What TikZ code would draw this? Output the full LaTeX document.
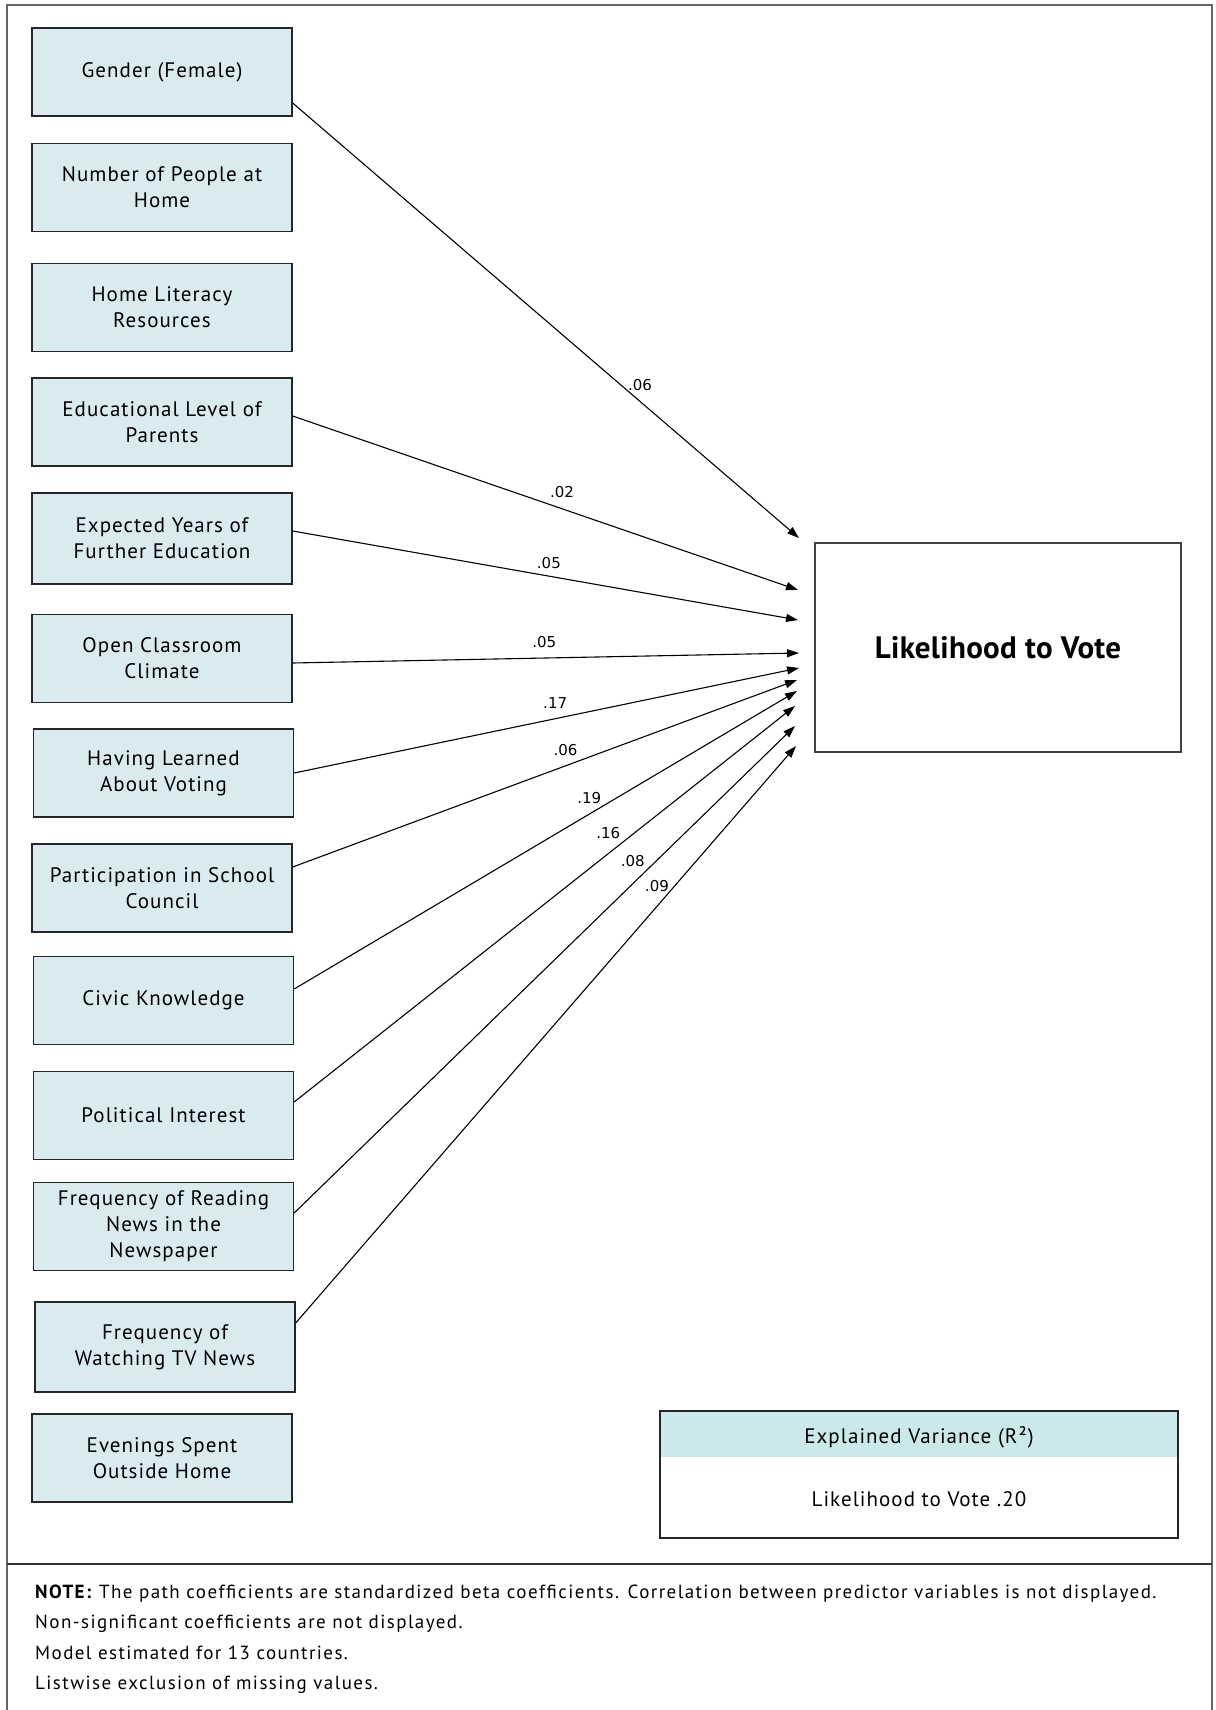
\documentclass[tikz,border=0pt]{standalone}
\usepackage{fontspec}
\setmainfont{PT Sans}[LetterSpace=5]
\newfontfamily\notefont{PT Sans}[LetterSpace=7.5]
\newfontfamily\bigfont{PT Sans}[LetterSpace=1]
\newfontfamily\labelfont{DejaVu Sans}
\usetikzlibrary{arrows.meta}
\definecolor{boxfill}{HTML}{DAEBF0}
\definecolor{headfill}{HTML}{CBE9EA}
\begin{document}
\begin{tikzpicture}[x=1pt,y=-1pt,
  pbox/.style={draw=black!85, line width=1.3pt, fill=boxfill, minimum width=260pt,
    minimum height=88pt, align=center, inner sep=0pt, font=\fontsize{21}{26}\selectfont},
  conn/.style={-{Triangle[length=12pt,width=8pt]}, line width=1.1pt},
  coef/.style={font=\labelfont\fontsize{15}{18}\selectfont, above=8pt, inner sep=2pt},
  notetext/.style={anchor=base west, inner sep=0pt, font=\notefont\fontsize{19}{22}\selectfont}
]
\useasboundingbox (0,0) rectangle (1215,1710);
\fill[white] (0,0) rectangle (1215,1710);
\draw[black!60, line width=1.2pt] (7,1710) -- (7,5) -- (1212,5) -- (1212,1710);
\draw[black!80, line width=1.2pt] (7,1564) -- (1212,1564);

% predictor boxes
\node[pbox] (b1) at (162,72) {Gender (Female)};
\node[pbox] (b2) at (162,187.5) {Number of People at\\Home};
\node[pbox] (b3) at (162,307.5) {Home Literacy\\Resources};
\node[pbox] (b4) at (162,422) {Educational Level of\\Parents};
\node[pbox, minimum height=91pt] (b5) at (162,538.5) {Expected Years of\\Further Education};
\node[pbox] (b6) at (162,658.5) {Open Classroom\\Climate};
\node[pbox] (b7) at (163.5,773) {Having Learned\\About Voting};
\node[pbox] (b8) at (162,888) {Participation in School\\Council};
\node[pbox] (b9) at (163.5,1000.5) {Civic Knowledge};
\node[pbox] (b10) at (163.5,1115.5) {Political Interest};
\node[pbox] (b11) at (163.5,1226.5) {Frequency of Reading\\News in the\\Newspaper};
\node[pbox, minimum height=90pt] (b12) at (165,1347) {Frequency of\\Watching TV News};
\node[pbox] (b13) at (162,1458) {Evenings Spent\\Outside Home};

% outcome
\node[draw=black!75, line width=1.3pt, minimum width=366pt, minimum height=209pt,
  font=\bigfont\fontsize{31}{36}\selectfont\bfseries] (y) at (998,647.5) {Likelihood to Vote};

% arrow end points
\coordinate (t1) at (799,538);
\coordinate (t2) at (798,590);
\coordinate (t3) at (798,620);
\coordinate (t4) at (799,653);
\coordinate (t5) at (799,668);
\coordinate (t6) at (797,680);
\coordinate (t7) at (797,691);
\coordinate (t8) at (795,706);
\coordinate (t9) at (795,726);
\coordinate (t10) at (796,746);

\draw[conn] ([yshift=-31pt]b1.east) -- (t1) node[coef, pos=0.686] (c1) {.06};
\draw[conn] ([yshift=6pt]b4.east) -- (t2) node[coef, pos=0.533] (c2) {.02};
\draw[conn] ([yshift=7.5pt]b5.east) -- (t3) node[coef, pos=0.507, yshift=-3pt] (c3) {.05};
\draw[conn] ([yshift=-4.5pt]b6.east) -- (t4) node[coef, pos=0.497] (c4) {.05};
\draw[conn] (b7.east) -- (t5) node[coef, pos=0.517] (c5) {.17};
\draw[conn] ([yshift=21pt]b8.east) -- (t6) node[coef, pos=0.541] (c6) {.06};
\draw[conn] ([yshift=11.5pt]b9.east) -- (t7) node[coef, pos=0.587] (c7) {.19};
\draw[conn] ([yshift=13.5pt]b10.east) -- (t8) node[coef, pos=0.627, yshift=4pt] (c8) {.16};
\draw[conn] ([yshift=13.5pt]b11.east) -- (t9) node[coef, pos=0.676, yshift=7pt] (c9) {.08};
\draw[conn] ([yshift=24pt]b12.east) -- (t10) node[coef, pos=0.722, yshift=4pt] (c10) {.09};

% explained variance box
\node[fill=headfill, minimum width=518pt, minimum height=46pt, inner sep=0pt] (vh) at (919,1434) {};
\node[font=\fontsize{21}{24}\selectfont, inner sep=0pt] (vht) at (919,1437) {Explained Variance (R²)};
\node[draw=black!85, line width=1.2pt, minimum width=518pt, minimum height=127pt] (vb) at (919,1474.5) {};
\node[font=\fontsize{21}{24}\selectfont, inner sep=0pt] (vv) at (919,1499) {Likelihood to Vote .20};

% note
\node[notetext] (n1) at (35,1598) {\textbf{NOTE:} The path coefficients are standardized beta coefficients. Correlation between predictor variables is not displayed.};
\node[notetext] (n2) at (35,1628.5) {Non-significant coefficients are not displayed.};
\node[notetext] (n3) at (35,1659) {Model estimated for 13 countries.};
\node[notetext] (n4) at (35,1689.5) {Listwise exclusion of missing values.};
\end{tikzpicture}
\end{document}
